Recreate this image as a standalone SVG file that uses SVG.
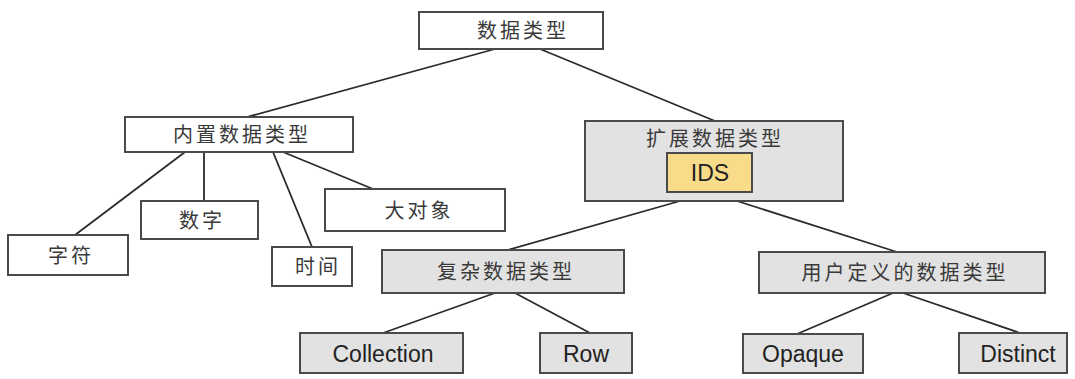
<svg xmlns="http://www.w3.org/2000/svg" width="1075" height="379" viewBox="0 0 1075 379">
<defs>
<style>
.w{fill:#ffffff;stroke:#4a4a4a;stroke-width:2}
.g{fill:#e2e2e2;stroke:#4a4a4a;stroke-width:2}
.y{fill:#f8dc8a;stroke:#4a4a4a;stroke-width:2}
.zh{font-family:"Noto Sans CJK SC","Noto Sans",sans-serif;font-size:20px;fill:#3a3a3a;text-anchor:middle;letter-spacing:3px}
.en{font-family:"Liberation Sans",Arial,sans-serif;font-size:23px;fill:#222222;text-anchor:middle}
.c line{stroke:#2a2a2a;stroke-width:1.8}
</style>
</defs>
<rect width="1075" height="379" fill="#ffffff"/>
<g class="c" id="connectors">
<line x1="495" y1="49" x2="247" y2="117"/>
<line x1="540" y1="49" x2="715" y2="121"/>
<line x1="185" y1="152" x2="75" y2="235"/>
<line x1="204" y1="152" x2="204" y2="201"/>
<line x1="273" y1="152" x2="312" y2="247"/>
<line x1="283" y1="152" x2="373" y2="189"/>
<line x1="680" y1="201" x2="508" y2="250"/>
<line x1="737" y1="201" x2="897" y2="252"/>
<line x1="495" y1="293" x2="383" y2="333"/>
<line x1="515" y1="293" x2="590" y2="333"/>
<line x1="893" y1="293" x2="797" y2="334"/>
<line x1="903" y1="293" x2="1020" y2="333"/>
</g>
<g id="root"><rect class="w" x="419" y="12" width="184" height="37"/><text class="zh" x="523" y="38">数据类型</text></g>
<g id="builtin"><rect class="w" x="125" y="117" width="228" height="35"/><text class="zh" x="242" y="142">内置数据类型</text></g>
<g id="char"><rect class="w" x="8" y="235" width="120" height="40"/><text class="zh" x="71" y="263">字符</text></g>
<g id="number"><rect class="w" x="141" y="201" width="117" height="38"/><text class="zh" x="202" y="228">数字</text></g>
<g id="time"><rect class="w" x="272" y="247" width="80" height="39"/><text class="zh" x="318" y="274">时间</text></g>
<g id="lob"><rect class="w" x="325" y="189" width="180" height="42"/><text class="zh" x="419" y="218">大对象</text></g>
<g id="ext"><rect class="g" x="585" y="121" width="258" height="80"/><text class="zh" x="715" y="146">扩展数据类型</text>
<rect class="y" x="667" y="153" width="85" height="39"/><text class="en" x="710" y="181">IDS</text></g>
<g id="complex"><rect class="g" x="382" y="250" width="242" height="43"/><text class="zh" x="506" y="279">复杂数据类型</text></g>
<g id="udt"><rect class="g" x="759" y="252" width="286" height="41"/><text class="zh" x="905" y="280">用户定义的数据类型</text></g>
<g id="collection"><rect class="g" x="300" y="333" width="163" height="40"/><text class="en" x="383" y="362">Collection</text></g>
<g id="row"><rect class="g" x="540" y="333" width="92" height="40"/><text class="en" x="586" y="362">Row</text></g>
<g id="opaque"><rect class="g" x="743" y="334" width="120" height="39"/><text class="en" x="803" y="362">Opaque</text></g>
<g id="distinct"><rect class="g" x="959" y="333" width="108" height="40"/><text class="en" x="1018" y="362">Distinct</text></g>
</svg>
